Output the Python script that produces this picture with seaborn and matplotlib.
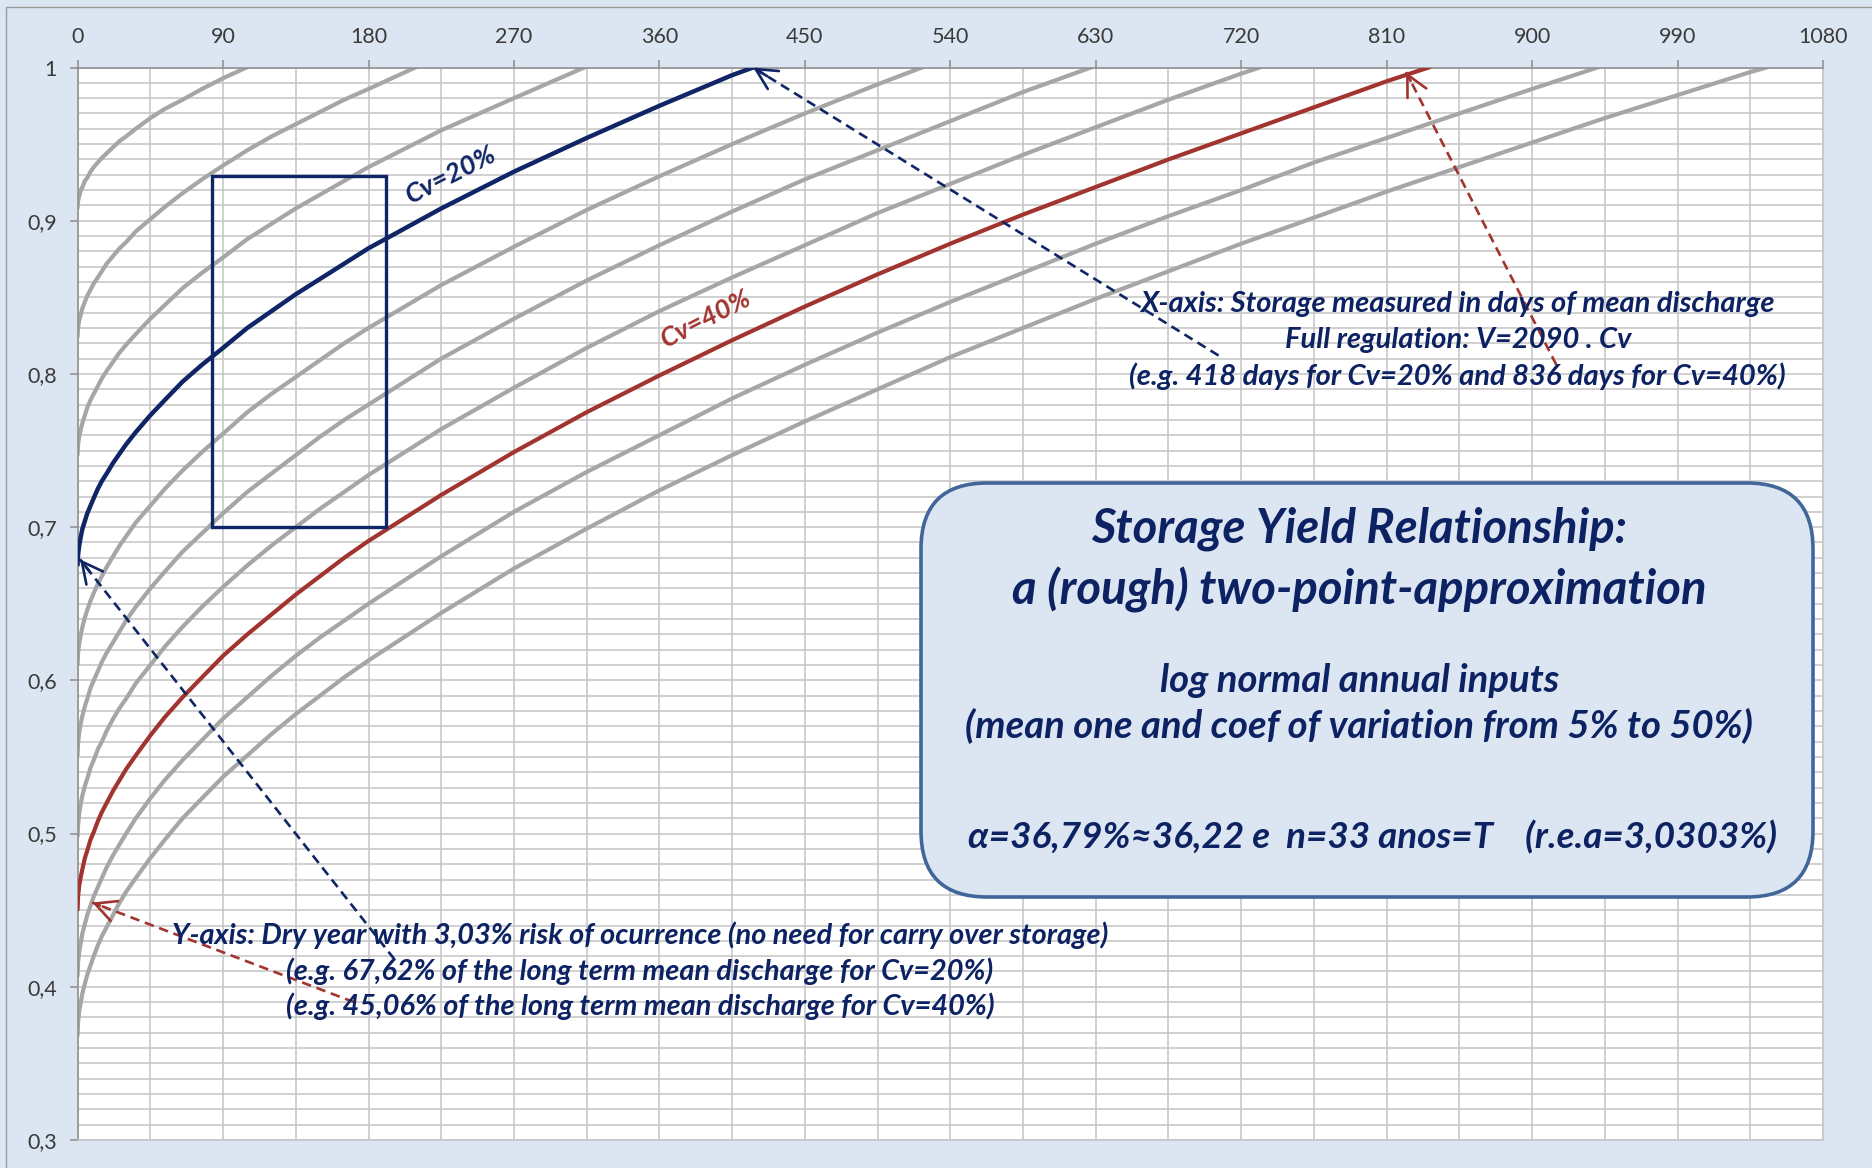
import matplotlib
matplotlib.use("Agg")
import matplotlib.pyplot as plt
import matplotlib.ticker as mticker
from matplotlib.patches import Rectangle, FancyBboxPatch
import seaborn as sns

# ---- storage-yield curves: yield vs storage (days of mean discharge), Cv = 5% .. 50% ----
# storage positions where each curve is read; every curve ends at full regulation (yield = 1)
days_grid = [0, 0.3, 1, 2, 3, 4.5, 6, 8, 10, 12.5, 15, 18, 22, 26, 30, 36,
             45, 54, 65, 77, 90, 105, 120, 135, 150, 165, 180, 225, 270, 315, 360, 405,
             450, 495, 540, 585, 630, 675, 720, 765, 810, 855, 900, 945, 990, 1035]

cv_labels = ["5%", "10%", "15%", "20%", "25%", "30%", "35%", "40%", "45%", "50%"]
full_regulation_days = [104.5, 209, 313.5, 418, 522.5, 627, 731.5, 836, 940.5, 1045]

yield_05 = [0.909, 0.913, 0.916, 0.920, 0.922, 0.926, 0.928, 0.932, 0.935, 0.938, 0.941, 0.944,
            0.948, 0.952, 0.955, 0.960, 0.967, 0.973, 0.979, 0.986, 0.993, 1.0]
yield_10 = [0.825, 0.830, 0.835, 0.839, 0.843, 0.847, 0.851, 0.855, 0.859, 0.863, 0.867, 0.872,
            0.877, 0.882, 0.886, 0.893, 0.901, 0.909, 0.918, 0.927, 0.936, 0.946, 0.955, 0.963,
            0.971, 0.979, 0.986, 1.0]
yield_15 = [0.748, 0.754, 0.759, 0.764, 0.768, 0.773, 0.778, 0.783, 0.787, 0.792, 0.797, 0.802,
            0.808, 0.814, 0.819, 0.826, 0.836, 0.845, 0.856, 0.866, 0.876, 0.888, 0.898, 0.908,
            0.917, 0.926, 0.935, 0.959, 0.980, 1.0]
yield_20 = [0.676, 0.682, 0.688, 0.694, 0.699, 0.704, 0.709, 0.714, 0.719, 0.725, 0.730, 0.735,
            0.742, 0.748, 0.754, 0.762, 0.773, 0.783, 0.795, 0.806, 0.817, 0.830, 0.841, 0.852,
            0.862, 0.872, 0.882, 0.908, 0.932, 0.954, 0.975, 0.995, 1.0]
yield_25 = [0.611, 0.618, 0.624, 0.630, 0.635, 0.641, 0.646, 0.652, 0.657, 0.663, 0.668, 0.674,
            0.681, 0.688, 0.694, 0.703, 0.714, 0.725, 0.737, 0.749, 0.761, 0.775, 0.787, 0.798,
            0.809, 0.820, 0.830, 0.858, 0.883, 0.907, 0.929, 0.950, 0.970, 0.989, 1.0]
yield_30 = [0.552, 0.559, 0.566, 0.572, 0.577, 0.583, 0.588, 0.595, 0.600, 0.606, 0.612, 0.618,
            0.625, 0.632, 0.639, 0.648, 0.660, 0.671, 0.684, 0.696, 0.709, 0.723, 0.735, 0.747,
            0.759, 0.770, 0.780, 0.810, 0.836, 0.861, 0.884, 0.906, 0.927, 0.946, 0.965, 0.984, 1.0]
yield_35 = [0.499, 0.506, 0.513, 0.520, 0.525, 0.531, 0.536, 0.543, 0.548, 0.555, 0.560, 0.567,
            0.575, 0.582, 0.588, 0.598, 0.610, 0.622, 0.635, 0.648, 0.661, 0.675, 0.688, 0.700,
            0.712, 0.723, 0.734, 0.764, 0.791, 0.817, 0.841, 0.863, 0.884, 0.905, 0.924, 0.943,
            0.961, 0.979, 0.996, 1.0]
yield_40 = [0.451, 0.459, 0.466, 0.472, 0.477, 0.484, 0.489, 0.496, 0.501, 0.508, 0.514, 0.520,
            0.528, 0.535, 0.542, 0.551, 0.564, 0.576, 0.589, 0.602, 0.616, 0.630, 0.643, 0.656,
            0.668, 0.680, 0.691, 0.721, 0.749, 0.775, 0.799, 0.822, 0.844, 0.865, 0.885, 0.904,
            0.922, 0.940, 0.957, 0.974, 0.991, 1.0]
yield_45 = [0.408, 0.416, 0.423, 0.429, 0.435, 0.441, 0.447, 0.453, 0.459, 0.465, 0.471, 0.478,
            0.486, 0.493, 0.500, 0.510, 0.523, 0.535, 0.548, 0.561, 0.575, 0.589, 0.603, 0.616,
            0.628, 0.639, 0.650, 0.681, 0.710, 0.736, 0.760, 0.784, 0.806, 0.827, 0.847, 0.866,
            0.885, 0.903, 0.920, 0.938, 0.954, 0.970, 0.986, 1.0]
yield_50 = [0.369, 0.377, 0.384, 0.390, 0.396, 0.402, 0.408, 0.414, 0.420, 0.427, 0.433, 0.439,
            0.447, 0.455, 0.462, 0.471, 0.484, 0.496, 0.510, 0.523, 0.537, 0.551, 0.565, 0.578,
            0.590, 0.602, 0.613, 0.644, 0.673, 0.699, 0.724, 0.747, 0.769, 0.790, 0.811, 0.830,
            0.849, 0.867, 0.885, 0.902, 0.919, 0.935, 0.951, 0.967, 0.982, 0.997, 1.0]

yields = [yield_05, yield_10, yield_15, yield_20, yield_25,
          yield_30, yield_35, yield_40, yield_45, yield_50]

x_ticks = [0, 90, 180, 270, 360, 450, 540, 630, 720, 810, 900, 990, 1080]
y_ticks = [0.3, 0.4, 0.5, 0.6, 0.7, 0.8, 0.9, 1.0]
y_tick_labels = ["0,3", "0,4", "0,5", "0,6", "0,7", "0,8", "0,9", "1"]

# highlighted window on the Cv=20% curve (storage days x yield)
window_days = [83, 191]
window_yield = [0.70, 0.929]

GRAY = "#a6a6a6"
NAVY = "#0f2566"
RED = "#a2342f"
TXT = "#0d2263"
BG = "#dce6f2"
highlight = {"20%": (NAVY, 3.2), "40%": (RED, 3.0)}

W, H = 1872, 1168
fig = plt.figure(figsize=(W / 100, H / 100), dpi=100, facecolor=BG)
ax = fig.add_axes([77.6 / W, 28 / H, (1823 - 77.6) / W, (1140 - 67.5) / H])
ax.set_facecolor("white")

for lab, v_full, ys in zip(cv_labels, full_regulation_days, yields):
    xs = days_grid[:len(ys) - 1] + [v_full]
    color, lw = highlight.get(lab, (GRAY, 3.0))
    sns.lineplot(x=xs, y=ys, ax=ax, color=color, linewidth=lw, sort=False,
                 estimator=None, zorder=3 if lab in highlight else 2,
                 solid_joinstyle="round")

ax.add_patch(Rectangle((window_days[0], window_yield[0]),
                       window_days[1] - window_days[0],
                       window_yield[1] - window_yield[0],
                       fill=False, edgecolor=NAVY, linewidth=2.4, zorder=4))

# axes, ticks and grid
ax.set_xlim(0, 1080)
ax.set_ylim(0.3, 1.0)
ax.xaxis.tick_top()
ax.set_xticks(x_ticks)
ax.set_xticklabels([str(t) for t in x_ticks])
ax.set_yticks(y_ticks)
ax.set_yticklabels(y_tick_labels)
ax.xaxis.set_minor_locator(mticker.MultipleLocator(45))
ax.yaxis.set_minor_locator(mticker.MultipleLocator(0.01))
ax.grid(which="both", color="#c4c4c4", linewidth=1.1, zorder=0)
ax.set_axisbelow(True)
ax.tick_params(which="major", direction="out", length=6, width=1.1, color="#8c8c8c",
               labelsize=15.5, labelcolor="#3a3a3a", pad=9)
ax.tick_params(which="minor", length=0)
for lab in ax.get_xticklabels() + ax.get_yticklabels():
    lab.set_family(["Lato", "DejaVu Sans"])
for side in ["left", "top"]:
    ax.spines[side].set_color("#8c8c8c")
    ax.spines[side].set_linewidth(1.1)
for side in ["right", "bottom"]:
    ax.spines[side].set_color("#c4c4c4")
    ax.spines[side].set_linewidth(1.1)
ax.set_xlabel("")
ax.set_ylabel("")

# outer frame of the chart area
fig.add_artist(Rectangle((6 / W, -0.05), 1.2, 1.05 - 7 / H, transform=fig.transFigure,
                         fill=False, edgecolor="#9a9a9a", linewidth=1.0))

font = dict(family=["Lato", "DejaVu Sans"], weight="bold", style="italic")

# dashed pointer arrows
def pointer(start, tip, color):
    ax.plot([start[0], tip[0]], [start[1], tip[1]], color=color, linewidth=1.9,
            linestyle=(0, (3.6, 2.2)), zorder=5)
    near = (tip[0] - (tip[0] - start[0]) * 0.03, tip[1] - (tip[1] - start[1]) * 0.03)
    ax.annotate("", xy=tip, xytext=near,
                arrowprops=dict(arrowstyle="->,head_length=0.75,head_width=0.38",
                                color=color, lw=1.9, shrinkA=0, shrinkB=0,
                                mutation_scale=20), zorder=5)

pointer((706, 0.812), (418, 1.0), NAVY)
pointer((915, 0.806), (822, 0.997), RED)
pointer((196, 0.418), (1.5, 0.679), NAVY)
pointer((171, 0.390), (9, 0.455), RED)

# curve labels
ax.text(231, 0.930, "Cv=20%", color=NAVY, fontsize=19.5, rotation=27,
        ha="center", va="center", zorder=6, **font)
ax.text(389, 0.836, "Cv=40%", color=RED, fontsize=19.5, rotation=27,
        ha="center", va="center", zorder=6, **font)

# axis explanations
x_note = ["X-axis: Storage measured in days of mean discharge",
          "Full regulation: V=2090 . Cv",
          "(e.g. 418 days for Cv=20% and 836 days for Cv=40%)"]
for s, yy in zip(x_note, [0.8454, 0.8220, 0.7986]):
    ax.text(854, yy, s, color=TXT, fontsize=21, ha="center", va="center", zorder=6, **font)

y_note = ["Y-axis: Dry year with 3,03% risk of ocurrence (no need for carry over storage)",
          "(e.g. 67,62% of the long term mean discharge for Cv=20%)",
          "(e.g. 45,06% of the long term mean discharge for Cv=40%)"]
for s, yy in zip(y_note, [0.4338, 0.4103, 0.3875]):
    ax.text(348, yy, s, color=TXT, fontsize=20.8, ha="center", va="center", zorder=6, **font)

# rounded title box (its own pixel-scaled axes so the corners stay circular)
bx0, bx1, by0, by1 = 919, 1815, 481, 899
box_ax = fig.add_axes([bx0 / W, 1 - by1 / H, (bx1 - bx0) / W, (by1 - by0) / H])
box_ax.set_xlim(0, bx1 - bx0)
box_ax.set_ylim(0, by1 - by0)
box_ax.axis("off")
r = 66
box_ax.add_patch(FancyBboxPatch((r + 2, r + 2), bx1 - bx0 - 2 * r - 4, by1 - by0 - 2 * r - 4,
                                boxstyle=f"round,pad={r},rounding_size={r}",
                                facecolor=BG, edgecolor="#41679a", linewidth=2.6,
                                clip_on=False))

box_lines = [("Storage Yield Relationship:", 793, 0.6988, 34),
             ("a (rough) two-point-approximation", 793, 0.6592, 34),
             ("log normal annual inputs", 793, 0.6000, 27.5),
             ("(mean one and coef of variation from 5% to 50%)", 793, 0.5703, 27.5),
             ("α=36,79%≈36,22 e  n=33 anos=T    (r.e.a=3,0303%)", 801, 0.4979, 26.5)]
for s, xx, yy, fs in box_lines:
    box_ax.text(xx, yy, s, color=TXT, fontsize=fs, ha="center", va="center",
                transform=ax.transData, **font)

fig.savefig("out.png", dpi=100, facecolor=BG)
